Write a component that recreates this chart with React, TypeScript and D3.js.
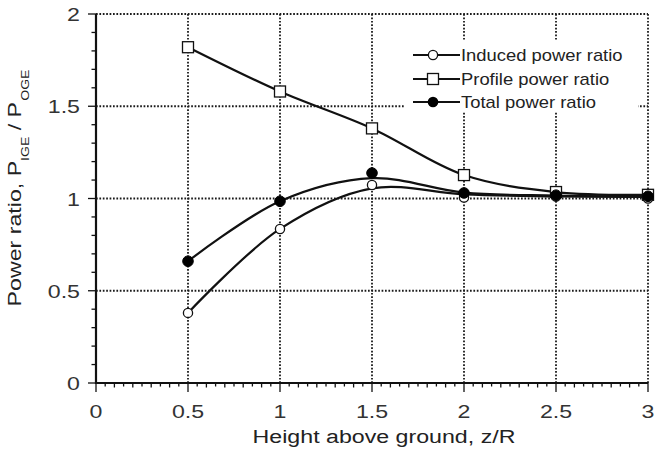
import React from "react";
import * as d3 from "d3";

const heights = [0.5, 1, 1.5, 2, 2.5, 3];
const inducedPoints = [0.38, 0.835, 1.073, 1.005, 1.01, 1.0];
const profilePoints = [1.82, 1.58, 1.38, 1.127, 1.035, 1.02];
const totalPoints = [0.66, 0.985, 1.138, 1.03, 1.018, 1.012];
// smoothed curves at the same heights
const inducedCurve = [0.38, 0.835, 1.055, 1.022, 1.012, 1.008];
const totalCurve = [0.66, 0.985, 1.11, 1.032, 1.016, 1.01];

const xTicks = [0, 0.5, 1, 1.5, 2, 2.5, 3];
const yTicks = [0, 0.5, 1, 1.5, 2];
const xTickLabels = ["0", "0.5", "1", "1.5", "2", "2.5", "3"];
const yTickLabels = ["0", "0.5", "1", "1.5", "2"];
const legendLabels = ["Induced power ratio", "Profile power ratio", "Total power ratio"];

const W = 656;
const H = 455;
const FONT = "'Liberation Sans', Arial, sans-serif";
const SX = 1.22;

function T({ x, y, anchor = "start", size = 19, sx = SX, rotate = 0, fill = "#333", children }: any) {
  const tr = `translate(${x},${y})${rotate ? ` rotate(${rotate})` : ""} scale(${sx},1)`;
  return (
    <text transform={tr} textAnchor={anchor} fontSize={size} fontFamily={FONT} fill={fill}>
      {children}
    </text>
  );
}

export default function App() {
  const x = d3.scaleLinear().domain([0, 3]).range([96, 648]);
  const y = d3.scaleLinear().domain([0, 2]).range([383, 14]);

  const line = d3
    .line<number>()
    .x((_, i) => x(heights[i]))
    .y((d) => y(d))
    .curve(d3.curveCatmullRom.alpha(0.5));

  const xMinor = d3.range(0, 3.0001, 0.05);
  const yMinor = d3.range(0, 2.0001, 0.1);
  const grid = { stroke: "#1a1a1a", strokeWidth: 1.8, strokeDasharray: "1.7,1.7" };

  const square = (cx: number, cy: number, key: any) => (
    <rect key={key} x={cx - 5.5} y={cy - 5.5} width={11} height={11} fill="#fff" stroke="#111" strokeWidth={1.3} />
  );

  const legendX0 = 413;
  const legendX1 = 460;
  const legendM = 433;
  const legendYs = [55, 79, 102];

  return (
    <svg width={W} height={H} style={{ position: "absolute", left: 0, top: 0, background: "#fff" }}>
      <rect x={0} y={0} width={W} height={H} fill="#fff" />
      {/* grid */}
      {xTicks.filter((t) => t > 0).map((t) => (
        <line key={"gx" + t} x1={x(t)} x2={x(t)} y1={y(0)} y2={y(2)} {...grid} />
      ))}
      {yTicks.filter((t) => t > 0).map((t) => (
        <line key={"gy" + t} x1={x(0)} x2={x(3)} y1={y(t)} y2={y(t)} {...grid} />
      ))}
      {/* legend background */}
      <rect x={405} y={40} width={233} height={72} fill="#fff" />
      {/* axes */}
      <line x1={x(0)} x2={x(0)} y1={y(0) + 1} y2={y(2)} stroke="#111" strokeWidth={2.2} />
      <line x1={x(0) - 1} x2={x(3)} y1={y(0)} y2={y(0)} stroke="#111" strokeWidth={2.2} />
      {yMinor.map((t, i) => (
        <line key={"ym" + i} x1={x(0) - (i % 5 === 0 ? 8 : 4.5)} x2={x(0)} y1={y(t)} y2={y(t)} stroke="#111" strokeWidth={1.3} />
      ))}
      {xMinor.map((t, i) => (
        <line key={"xm" + i} x1={x(t)} x2={x(t)} y1={y(0)} y2={y(0) + (i % 10 === 0 ? 9 : i % 2 === 0 ? 4.5 : 3.5)} stroke="#111" strokeWidth={1.3} />
      ))}
      {/* tick labels */}
      {yTicks.map((t, i) => (
        <T key={"yl" + t} x={80} y={y(t) + 7} anchor="end">
          {yTickLabels[i]}
        </T>
      ))}
      {xTicks.map((t, i) => (
        <T key={"xl" + t} x={x(t)} y={418} anchor="middle">
          {xTickLabels[i]}
        </T>
      ))}
      {/* axis titles */}
      <T x={384} y={443} anchor="middle" fill="#222">
        Height above ground, z/R
      </T>
      <text transform={`translate(21,188) rotate(-90) scale(${SX},1)`} textAnchor="middle" fontSize={19} fontFamily={FONT} fill="#222">
        Power ratio, P
        <tspan fontSize={11.5} dy={8}>IGE</tspan>
        <tspan dy={-8}> / P</tspan>
        <tspan fontSize={11.5} dy={8} dx={1}>OGE</tspan>
      </text>
      {/* curves */}
      <path d={line(profilePoints) || ""} fill="none" stroke="#111" strokeWidth={2.2} />
      <path d={line(totalCurve) || ""} fill="none" stroke="#111" strokeWidth={2.2} />
      <path d={line(inducedCurve) || ""} fill="none" stroke="#111" strokeWidth={2.2} />
      {/* markers */}
      {profilePoints.map((v, i) => square(x(heights[i]), y(v), "ps" + i))}
      {inducedPoints.map((v, i) => (
        <circle key={"ic" + i} cx={x(heights[i])} cy={y(v)} r={4.6} fill="#fff" stroke="#111" strokeWidth={1.3} />
      ))}
      {totalPoints.map((v, i) => (
        <circle key={"tc" + i} cx={x(heights[i])} cy={y(v)} r={5.3} fill="#000" stroke="#000" strokeWidth={1} />
      ))}
      {/* legend */}
      {legendYs.map((ly, i) => (
        <g key={"lg" + i}>
          <line x1={legendX0} x2={legendX1} y1={ly} y2={ly} stroke="#111" strokeWidth={2.2} />
          {i === 0 && <circle cx={legendM} cy={ly} r={4.6} fill="#fff" stroke="#111" strokeWidth={1.3} />}
          {i === 1 && square(legendM, ly, "lsq")}
          {i === 2 && <circle cx={legendM} cy={ly} r={5.3} fill="#000" />}
          <T x={461} y={ly + 6} size={16} sx={1.15} fill="#222">
            {legendLabels[i]}
          </T>
        </g>
      ))}
    </svg>
  );
}
